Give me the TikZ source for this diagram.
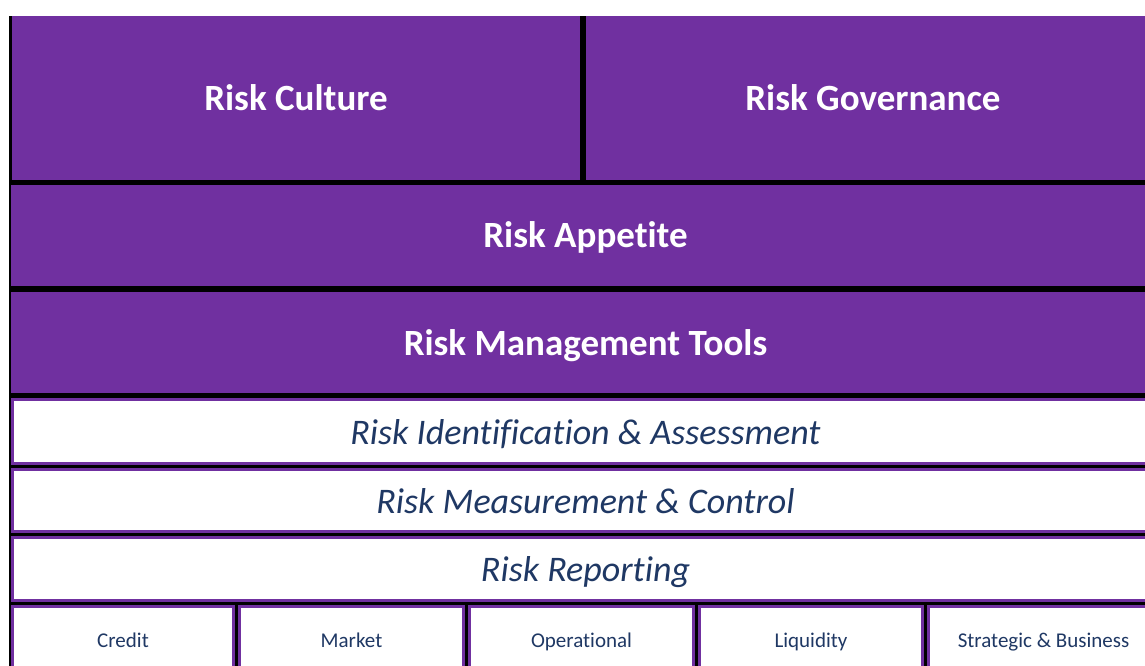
\documentclass[tikz,border=0pt]{standalone}
\usepackage{fontspec}
\setmainfont{Carlito}[Ligatures=NoCommon]
\definecolor{riskpurple}{HTML}{7030A0}
\definecolor{riskblue}{HTML}{1F3864}

\begin{document}
\begin{tikzpicture}[x=1pt,y=-1pt,
    cell/.style={draw=riskpurple,line width=3pt,inner sep=0pt,text depth=0pt},
    band/.style={cell,fill=riskpurple,text=white,font=\fontsize{37}{40}\selectfont\bfseries},
    layer/.style={cell,fill=white,text=riskblue,font=\fontsize{36}{40}\selectfont\itshape},
    riskcell/.style={cell,fill=white,text=riskblue,font=\fontsize{21}{24}\selectfont,
        minimum height=67pt}]
    \useasboundingbox (0,0) rectangle (1145,666);
    \clip (0,0) rectangle (1145,666);
    % black grid shows through the gaps between cells
    \fill[black] (9,16) rectangle (1170,690);
    % top bands
    \node[band,minimum width=565pt,minimum height=161pt] (culture) at (296,98) {Risk Culture};
    \node[band,minimum width=571pt,minimum height=161pt] (governance) at (873,98) {Risk Governance};
    \node[band,minimum width=1146pt,minimum height=98pt] (appetite) at (585.5,235) {Risk Appetite};
    \node[band,minimum width=1146pt,minimum height=98pt] (tools) at (585.5,342.5) {Risk Management Tools};
    % tool layers
    \node[layer,minimum width=1146pt,minimum height=64pt] (ident) at (585.5,431.5) {Risk Identification \& Assessment};
    \node[layer,minimum width=1146pt,minimum height=62pt] (measure) at (585.5,500.5) {Risk Measurement \& Control};
    \node[layer,minimum width=1146pt,minimum height=63pt] (report) at (585.5,569) {Risk Reporting};
    % risk types
    \node[riskcell,minimum width=221pt] (credit) at (123,640) {Credit};
    \node[riskcell,minimum width=224pt] (market) at (351.5,640) {Market};
    \node[riskcell,minimum width=224pt] (operational) at (581.5,640) {Operational};
    \node[riskcell,minimum width=223pt] (liquidity) at (811,640) {Liquidity};
    \node[riskcell,minimum width=230pt] (strategic) at (1043.5,640) {Strategic \& Business};
\end{tikzpicture}
\end{document}
